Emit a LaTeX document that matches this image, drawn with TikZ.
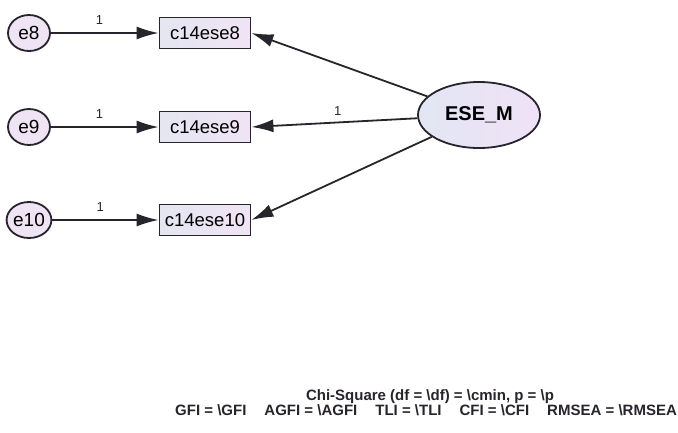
\documentclass[tikz,border=0pt]{standalone}
\usepackage{fontspec}
\setmainfont{Liberation Sans}
\usetikzlibrary{arrows.meta,shapes.geometric}
\definecolor{errfill}{RGB}{238,228,244}
\definecolor{obsL}{RGB}{228,230,242}
\definecolor{obsR}{RGB}{240,228,244}
\definecolor{latL}{RGB}{226,230,244}
\definecolor{latR}{RGB}{240,226,246}
\definecolor{edge}{RGB}{40,36,44}
\tikzset{
  errnode/.style={ellipse,draw=edge,line width=1.8pt,fill=errfill,minimum width=42pt,minimum height=36pt,inner sep=0pt,font=\fontsize{19}{19}\selectfont},
  obsnode/.style={rectangle,draw=edge,line width=1.8pt,left color=obsL,right color=obsR,minimum width=91pt,minimum height=31pt,inner sep=0pt,font=\fontsize{18.5}{18.5}\selectfont},
  latnode/.style={ellipse,draw=edge,line width=1.8pt,left color=latL,right color=latR,minimum width=122pt,minimum height=66pt,inner sep=0pt,font=\bfseries\fontsize{20}{20}\selectfont},
  path/.style={draw=edge,line width=1.8pt,-{Latex[length=22pt,width=13pt]}},
  wlabel/.style={font=\fontsize{13}{13}\selectfont,text=edge},
  fitline/.style={font=\bfseries\fontsize{15}{15}\selectfont,text=edge,inner sep=0pt}
}
\begin{document}
\begin{tikzpicture}[x=1pt,y=-1pt]
  \useasboundingbox[fill=white] (0,0) rectangle (678,432);
  % error terms
  \node[errnode] (e8)  at (29,33)  {e8};
  \node[errnode] (e9)  at (29,127) {e9};
  \node[errnode] (e10) at (29,220) {e10};
  % observed indicators
  \node[obsnode] (c8)  at (205,33)  {c14ese8};
  \node[obsnode] (c9)  at (205,127) {c14ese9};
  \node[obsnode] (c10) at (205,220) {c14ese10};
  % latent factor
  \node[latnode] (ese) at (479,115) {ESE\_M};
  % error paths, fixed at 1
  \draw[path] (e8)  -- node[wlabel,above=4pt,pos=0.45] {1} (c8);
  \draw[path] (e9)  -- node[wlabel,above=4pt,pos=0.45] {1} (c9);
  \draw[path] (e10) -- node[wlabel,above=4pt,pos=0.45] {1} (c10);
  % loadings
  \draw[path] (ese) -- (c8.east);
  \draw[path] (ese) -- node[wlabel,above=3pt,pos=0.48] {1} (c9.east);
  \draw[path] (ese) -- (c10.east);
  % fit statistics
  \node[fitline] (chi) at (430,397) {Chi-Square (df = \textbackslash df) = \textbackslash cmin, p = \textbackslash p};
  \node[fitline,anchor=east] (fit) at (677,410) {GFI = \textbackslash GFI\hspace{1.2em}AGFI = \textbackslash AGFI\hspace{1.2em}TLI = \textbackslash TLI\hspace{1.2em}CFI = \textbackslash CFI\hspace{1.2em}RMSEA = \textbackslash RMSEA};
\end{tikzpicture}
\end{document}
